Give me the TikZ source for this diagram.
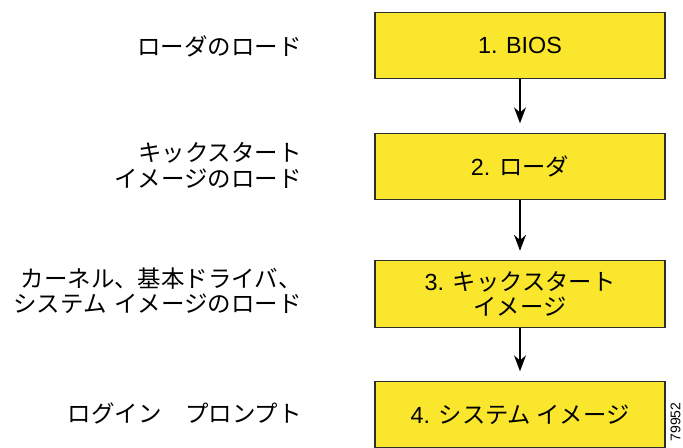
\documentclass[tikz,border=0pt]{standalone}
\usepackage{fontspec}
\setmainfont{Liberation Sans}
\newfontfamily\jp{Noto Sans CJK JP}
\usetikzlibrary{arrows.meta}
\definecolor{boxyellow}{RGB}{250,230,45}
\definecolor{edgegray}{RGB}{45,45,45}
\begin{document}
\begin{tikzpicture}[x=0.75pt,y=-0.75pt,
  stepbox/.style={draw=edgegray, line width=0.8pt, fill=boxyellow,
    minimum width=217.5pt, minimum height=50pt, inner sep=0pt,
    font=\fontsize{17.5}{19}\selectfont, align=center},
  lbl/.style={anchor=east, align=right, inner sep=0pt,
    font=\jp\fontsize{17.6}{19}\selectfont},
  flow/.style={-{Stealth[length=12pt,width=9pt]}, line width=0.8pt, draw=black, shorten >=7pt}]
\useasboundingbox (0,0) rectangle (683,447);
\clip (0,0) rectangle (683,447);
\fill[white] (0,0) rectangle (683,447);

\node[stepbox] (b1) at (520,45.5) {1. BIOS};
\node[stepbox] (b2) at (520,166.5) {2. {\jp ローダ}};
\node[stepbox] (b3) at (520,294) {3. {\jp キックスタート}\\{\jp イメージ}};
\node[stepbox] (b4) at (520,414.5) {4. {\jp システム イメージ}};

\draw[flow] (b1) -- (b2);
\draw[flow] (b2) -- (b3);
\draw[flow] (b3) -- (b4);

\node[lbl] (l1) at (302,46) {ローダのロード};
\node[lbl] (l2) at (302,165.5) {キックスタート\\イメージのロード};
\node[lbl] (l3) at (302,291) {カーネル、基本ドライバ、\\システム\,\,イメージのロード};
\node[lbl] (l4) at (302,413) {ログイン　プロンプト};

\node[rotate=90, inner sep=0pt, font=\fontsize{10.5}{10.5}\selectfont] (id) at (675.5,422) {79952};
\end{tikzpicture}
\end{document}
